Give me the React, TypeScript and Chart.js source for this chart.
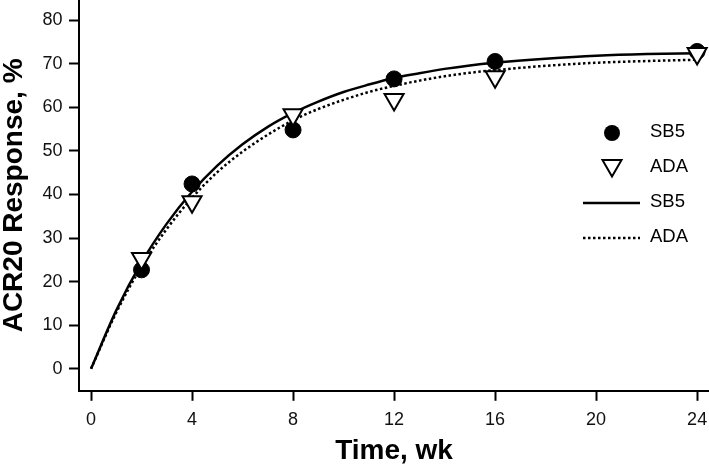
import React, { useEffect, useRef } from "react";
import Chart from "chart.js/auto";

// observed response rates (markers)
const observedWeeks = [2, 4, 8, 12, 16, 24];
const sb5Observed = [22.7, 42.4, 54.8, 66.5, 70.5, 72.8];
const adaObserved = [25.3, 38.3, 58.3, 61.8, 67.0, 72.3];

// fitted curves
const curveWeeks = [0, 1, 2, 3, 4, 5, 6, 7, 8, 9, 10, 11, 12, 13, 14, 15, 16, 18, 20, 22, 24];
const sb5Curve = [0, 13.4, 24.4, 33.3, 40.6, 46.6, 51.5, 55.5, 58.7, 61.3, 63.5, 65.2, 66.7, 67.8, 68.8, 69.6, 70.2, 71.1, 71.8, 72.2, 72.4];
const adaCurve = [0, 12.9, 23.5, 32.1, 39.2, 45.1, 49.8, 53.7, 57.0, 59.6, 61.7, 63.5, 64.9, 66.1, 67.1, 67.9, 68.5, 69.5, 70.2, 70.6, 70.9];

const xTicks = [0, 4, 8, 12, 16, 20, 24];
const yTicks = [0, 10, 20, 30, 40, 50, 60, 70, 80];

const FONT = "'Liberation Sans', Arial, Helvetica, sans-serif";

const legendPlugin = {
  id: "markerLegend",
  afterDraw(chart: any) {
    const ctx = chart.ctx as CanvasRenderingContext2D;
    ctx.save();
    ctx.fillStyle = "#000";
    ctx.strokeStyle = "#000";

    // filled circle
    ctx.beginPath();
    ctx.arc(612, 133, 8, 0, Math.PI * 2);
    ctx.fill();

    // open triangle pointing down
    const r = 11;
    const cx = 612;
    const cy = 165.5;
    ctx.beginPath();
    ctx.moveTo(cx, cy + r);
    ctx.lineTo(cx - r * Math.sin(Math.PI / 3), cy - r / 2);
    ctx.lineTo(cx + r * Math.sin(Math.PI / 3), cy - r / 2);
    ctx.closePath();
    ctx.fillStyle = "#fff";
    ctx.fill();
    ctx.lineWidth = 2;
    ctx.stroke();

    // solid line
    ctx.lineWidth = 2.5;
    ctx.beginPath();
    ctx.moveTo(583, 203);
    ctx.lineTo(640, 203);
    ctx.stroke();

    // dotted line
    ctx.setLineDash([2.5, 2.5]);
    ctx.beginPath();
    ctx.moveTo(583, 238);
    ctx.lineTo(640, 238);
    ctx.stroke();
    ctx.setLineDash([]);

    ctx.fillStyle = "#000";
    ctx.font = `18.5px ${FONT}`;
    ctx.textBaseline = "middle";
    ctx.textAlign = "left";
    ctx.fillText("SB5", 650, 132);
    ctx.fillText("ADA", 650, 167);
    ctx.fillText("SB5", 650, 202);
    ctx.fillText("ADA", 650, 237);
    ctx.restore();
  },
};

const App: React.FC = () => {
  const canvasRef = useRef<HTMLCanvasElement>(null);
  const chartRef = useRef<Chart | null>(null);

  useEffect(() => {
    document.body.style.margin = "0";
    if (!canvasRef.current) return;
    if (chartRef.current) chartRef.current.destroy();

    const tickFont = { family: FONT, size: 18 };
    const yTitleFont = { family: FONT, size: 28, weight: "bold" as const, lineHeight: 1 };
    const xTitleFont = { family: FONT, size: 28, weight: "bold" as const, lineHeight: 0.9 };

    chartRef.current = new Chart(canvasRef.current, {
      type: "scatter",
      data: {
        datasets: [
          {
            label: "ADA",
            data: observedWeeks.map((x, i) => ({ x, y: adaObserved[i] })),
            pointStyle: "triangle",
            rotation: 180,
            pointRadius: 11,
            backgroundColor: "#fff",
            borderColor: "#000",
            borderWidth: 2,
            order: 0,
            clip: false,
          },
          {
            label: "SB5",
            data: observedWeeks.map((x, i) => ({ x, y: sb5Observed[i] })),
            pointStyle: "circle",
            pointRadius: 8,
            backgroundColor: "#000",
            borderColor: "#000",
            borderWidth: 1,
            order: 1,
            clip: false,
          },
          {
            label: "SB5 fit",
            data: curveWeeks.map((x, i) => ({ x, y: sb5Curve[i] })),
            showLine: true,
            pointRadius: 0,
            borderColor: "#000",
            borderWidth: 2.5,
            cubicInterpolationMode: "monotone",
            order: 2,
          },
          {
            label: "ADA fit",
            data: curveWeeks.map((x, i) => ({ x, y: adaCurve[i] })),
            showLine: true,
            pointRadius: 0,
            borderColor: "#000",
            borderWidth: 2.5,
            borderDash: [2.5, 2.5],
            cubicInterpolationMode: "monotone",
            order: 3,
          },
        ],
      },
      options: {
        responsive: true,
        maintainAspectRatio: false,
        animation: false,
        layout: { padding: 0, autoPadding: false },
        plugins: {
          legend: { display: false },
          tooltip: { enabled: false },
        },
        scales: {
          x: {
            type: "linear",
            min: -0.475,
            max: 24.47,
            afterBuildTicks: (s: any) => {
              s.ticks = xTicks.map((value) => ({ value }));
            },
            afterFit: (s: any) => {
              s.paddingLeft = 0;
              s.paddingRight = 0;
            },
            ticks: { font: tickFont, color: "#111", padding: 8.2, maxRotation: 0, autoSkip: false },
            grid: { drawOnChartArea: false, drawTicks: true, tickLength: 10, tickWidth: 2, tickColor: "#000" },
            border: { display: true, color: "#000", width: 2 },
            title: { display: true, text: "Time, wk", color: "#000", font: xTitleFont, padding: { top: 0, bottom: 0 } },
          },
          y: {
            type: "linear",
            min: -5.05,
            max: 84.6,
            afterBuildTicks: (s: any) => {
              s.ticks = yTicks.map((value) => ({ value }));
            },
            afterFit: (s: any) => {
              s.paddingTop = 0;
              s.paddingBottom = 0;
            },
            ticks: { font: tickFont, color: "#111", padding: 6.5, autoSkip: false },
            grid: { drawOnChartArea: false, drawTicks: true, tickLength: 10, tickWidth: 2, tickColor: "#000" },
            border: { display: true, color: "#000", width: 2 },
            title: { display: true, text: "ACR20 Response, %", color: "#000", font: yTitleFont, padding: { top: 0, bottom: 8 } },
          },
        },
      },
      plugins: [legendPlugin],
    });

    return () => {
      if (chartRef.current) {
        chartRef.current.destroy();
        chartRef.current = null;
      }
    };
  }, []);

  return (
    <div style={{ position: "absolute", left: 0, top: 0, width: "709px", height: "464px" }}>
      <canvas ref={canvasRef} />
    </div>
  );
};

export default App;
